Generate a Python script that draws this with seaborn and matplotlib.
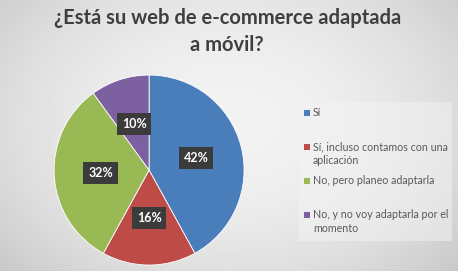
import numpy as np
import matplotlib
matplotlib.use("Agg")
import matplotlib.pyplot as plt
import seaborn as sns
from matplotlib.patches import Rectangle, FancyBboxPatch

categories = ["Sí", "Sí, incluso contamos con una\naplicación", "No, pero planeo adaptarla",
              "No, y no voy adaptarla por el\nmomento"]
values = [42, 16, 32, 10]
colors = ["#4a7ebb", "#be4b48", "#98b954", "#7d60a0"]
title = "¿Está su web de e-commerce adaptada\na móvil?"

sns.set_theme(style="white")
plt.rcParams['font.family'] = ['Lato', 'DejaVu Sans']

fig = plt.figure(figsize=(4.58, 2.71), dpi=100)

# soft grey background with lighter centre
bg = fig.add_axes([0, 0, 1, 1])
yy, xx = np.mgrid[0:1:200j, 0:1:300j]
g = 0.95 - 0.3 * ((xx - 0.5) ** 2 * 1.2 + (yy - 0.45) ** 2 * 0.8)
bg.imshow(g, cmap="gray", vmin=0.0, vmax=1.0, extent=[0, 1, 0, 1], aspect="auto")
bg.add_patch(FancyBboxPatch((0.652, 0.11), 0.335, 0.515, boxstyle="square,pad=0",
                            facecolor="#f3f3f3", edgecolor="none", alpha=0.5))
bg.set_xlim(0, 1); bg.set_ylim(0, 1)
bg.axis("off")

fig.text(0.496, 0.885, title, ha="center", va="center", fontsize=14.5,
         fontweight="bold", color="#3f3f3f", linespacing=1.45)

ax = fig.add_axes([0.118, 0.022, 0.415, 0.701])
wedges, _ = ax.pie(values, colors=colors, startangle=90, counterclock=False,
                   wedgeprops=dict(linewidth=0.6, edgecolor="white"))
ax.set_xlim(-1, 1)
ax.set_ylim(-1, 1)
ax.set_aspect("equal")

for w, v in zip(wedges, values):
    ang = np.deg2rad((w.theta1 + w.theta2) / 2)
    r = 0.51
    ax.text(r * np.cos(ang), r * np.sin(ang), f"{v}%", ha="center", va="center",
            fontsize=9, fontweight="bold", color="white",
            bbox=dict(boxstyle="square,pad=0.4", facecolor="#3b3b3b", edgecolor="none"))

# legend: evenly spaced slots, wrapped labels hang below their swatch
W, H = 458, 271
for i, (lab, c) in enumerate(zip(categories, colors)):
    y = 113 + 34 * i
    bg.add_patch(Rectangle((304 / W, 1 - (y + 3) / H), 6 / W, 6 / H,
                           facecolor=c, edgecolor="none"))
    bg.text(313 / W, 1 - (y - 6) / H, lab, ha="left", va="top", fontsize=7.7,
            color="#595959", linespacing=1.3)

fig.savefig("out.png", dpi=100)
